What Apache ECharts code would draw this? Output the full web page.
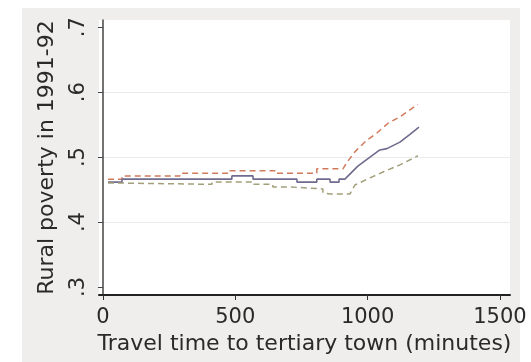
<!DOCTYPE html>
<html>
<head>
<meta charset="utf-8">
<script src="https://cdn.jsdelivr.net/npm/echarts@6/dist/echarts.min.js"></script>
<style>
html,body{margin:0;padding:0;background:#fff;}
#c{width:531px;height:362px;}
</style>
</head>
<body>
<div id="c"></div>
<script>
// Data
var xTicks = [0, 500, 1000, 1500];
var yTicks = [0.3, 0.4, 0.5, 0.6, 0.7];
var xTitle = 'Travel time to tertiary town (minutes)';
var yTitle = 'Rural poverty in 1991-92';

var midT = [19, 72, 72, 487, 487, 567, 567, 733, 733, 808, 808, 858, 858, 892, 892, 914, 963, 1009, 1046, 1073, 1122, 1160, 1194];
var midV = [.4615, .4615, .466, .466, .471, .471, .466, .466, .4615, .4615, .466, .466, .4615, .4615, .466, .466, .486, .5, .511, .513, .523, .535, .546];

var upT = [19, 72, 72, 291, 291, 480, 480, 650, 650, 808, 808, 907, 922, 952, 997, 1035, 1077, 1122, 1179, 1190];
var upV = [.466, .466, .471, .471, .475, .475, .479, .479, .475, .475, .482, .482, .492, .508, .526, .537, .552, .562, .578, .581];

var loT = [19, 72, 72, 412, 412, 567, 567, 642, 642, 706, 706, 831, 831, 858, 933, 952, 1009, 1058, 1122, 1171, 1190];
var loV = [.46, .46, .458, .458, .4615, .4615, .458, .458, .454, .454, .451, .451, .445, .443, .443, .457, .468, .477, .488, .498, .502];

function pairs(t, v) { return t.map(function (x, i) { return [x, v[i]]; }); }

var font = 'DejaVu Sans';
var chart = echarts.init(document.getElementById('c'), null, {renderer: 'canvas'});
chart.setOption({
  animation: false,
  backgroundColor: '#ffffff',
  graphic: [{
    type: 'rect', z: -10,
    shape: {x: 22, y: 8, width: 498, height: 360},
    style: {fill: '#efeeec'}
  }],
  grid: {left: 99, right: 21, top: 20, bottom: 67, show: true, backgroundColor: '#ffffff', borderWidth: 0},
  xAxis: {
    type: 'value', min: -15, max: 1538,
    name: xTitle, nameLocation: 'middle', nameGap: 31,
    nameTextStyle: {fontFamily: font, fontSize: 22, color: '#2a2a2a'},
    axisLine: {show: true, lineStyle: {color: '#222', width: 2}},
    axisTick: {show: true, customValues: xTicks, length: 5, lineStyle: {color: '#333', width: 1}},
    axisLabel: {customValues: xTicks, fontFamily: font, fontSize: 21, color: '#2a2a2a', margin: 12,
      formatter: function (v) { return String(v); }},
    splitLine: {show: false}
  },
  yAxis: {
    type: 'value', min: 0.2877, max: 0.711,
    name: yTitle, nameLocation: 'middle', nameGap: 41, nameRotate: 90,
    nameTextStyle: {fontFamily: font, fontSize: 22, color: '#2a2a2a'},
    axisLine: {show: true, lineStyle: {color: '#444', width: 1.5}},
    axisTick: {show: true, customValues: yTicks, length: 5, lineStyle: {color: '#444', width: 1}},
    axisLabel: {
      customValues: yTicks, rotate: 90, fontFamily: font, fontSize: 21, color: '#2a2a2a', margin: 10,
      formatter: function (v) { return '.' + Math.round(v * 10); }
    },
    splitLine: {show: true, lineStyle: {color: ['rgba(0,0,0,0)', '#ebebeb', '#ebebeb', '#ebebeb', 'rgba(0,0,0,0)'], width: 1}}
  },
  series: [
    {type: 'line', data: pairs(upT, upV), showSymbol: false, lineStyle: {color: '#d07a5c', width: 1.5, type: [6, 4]}},
    {type: 'line', data: pairs(midT, midV), showSymbol: false, lineStyle: {color: '#6f6b8e', width: 1.6}},
    {type: 'line', data: pairs(loT, loV), showSymbol: false, lineStyle: {color: '#a29f7a', width: 1.5, type: [6, 4]}}
  ]
});
</script>
</body>
</html>
